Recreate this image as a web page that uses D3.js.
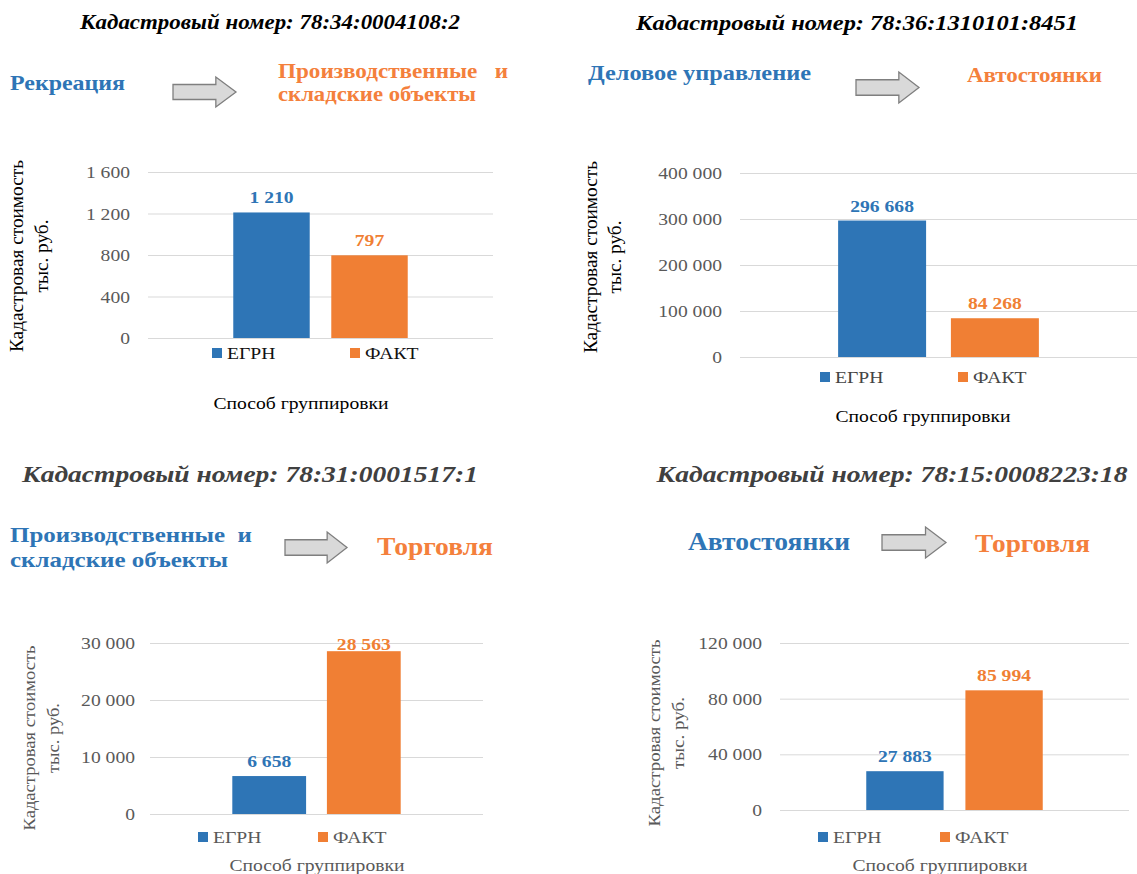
<!DOCTYPE html>
<html><head><meta charset="utf-8">
<script src="https://cdn.jsdelivr.net/npm/d3@7"></script>
<style>
body{margin:0;background:#fff}
svg{display:block}
</style>
</head><body>
<svg id="c" width="1137" height="874"></svg>
<script>
// ---------- DATA ----------
const categories = ["ЕГРН", "ФАКТ"];
const titles = [
  "Кадастровый номер: 78:34:0004108:2",
  "Кадастровый номер: 78:36:1310101:8451",
  "Кадастровый номер: 78:31:0001517:1",
  "Кадастровый номер: 78:15:0008223:18"
];
const fromLabels = [["Рекреация"], ["Деловое управление"], ["Производственные  и", "складские объекты"], ["Автостоянки"]];
const toLabels = [["Производственные   и", "складские объекты"], ["Автостоянки"], ["Торговля"], ["Торговля"]];
const egrnValues = [1210, 296668, 6658, 27883];
const faktValues = [797, 84268, 28563, 85994];
const yMaxValues = [1600, 400000, 30000, 120000];
const yTickValues = [
  [0, 400, 800, 1200, 1600],
  [0, 100000, 200000, 300000, 400000],
  [0, 10000, 20000, 30000],
  [0, 40000, 80000, 120000]
];
const yAxisTitleLines = ["Кадастровая стоимость", "тыс. руб."];
const xAxisTitle = "Способ группировки";

// ---------- STYLE / LAYOUT ----------
const FONT = "'Liberation Serif', 'Times New Roman', serif";
const BLUE = "#2E75B6", ORANGE = "#F07F34";
const HBLUE = "#2E75B6", HORANGE = "#F4803C";
const STRETCH = 1.12;

const layout = [
  { plot:{l:148,r:493,t:172,b:338}, tickPad:18,
    title:{x:270,y:29,size:21,len:380,color:"#000"},
    from:{x:10,ys:[90],size:22,lens:[115]}, to:{x:278,ys:[78,101],size:21,lens:[230,198]},
    arrow:{x:173,y:77,w:63,h:30},
    yTitle:{xs:[17,42],cy:256,size:18,lens:[192,73],color:"#000"},
    xTitle:{x:301,y:409,color:"#000"},
    legend:{x:212,y:353,step:138,color:"#111"}, textColor:"#595959" },
  { plot:{l:740,r:1137,t:173,b:357}, tickPad:18,
    title:{x:857,y:30,size:22,len:442,color:"#000"},
    from:{x:588,ys:[80],size:21,lens:[223]}, to:{x:967,ys:[82],size:21,lens:[135]},
    arrow:{x:856,y:72,w:63,h:31},
    yTitle:{xs:[591,615],cy:257,size:18,lens:[192,73],color:"#000"},
    xTitle:{x:923,y:422,color:"#000"},
    legend:{x:820,y:377,step:138,color:"#444"}, textColor:"#595959" },
  { plot:{l:150,r:483,t:643,b:814}, tickPad:15,
    title:{x:250,y:482,size:24,len:456,color:"#404040"},
    from:{x:10,ys:[542,567],size:22,lens:[242,218]}, to:{x:377,ys:[555],size:25,lens:[116]},
    arrow:{x:285,y:532,w:62,h:31},
    yTitle:{xs:[29,53],cy:738,size:17,lens:[185,70],color:"#595959"},
    xTitle:{x:317,y:871,color:"#595959"},
    legend:{x:198,y:837,step:120,color:"#595959"}, textColor:"#595959" },
  { plot:{l:780,r:1129,t:643,b:810}, tickPad:18,
    title:{x:892,y:482,size:24,len:471,color:"#404040"},
    from:{x:688,ys:[550],size:25,lens:[162]}, to:{x:975,ys:[552],size:25,lens:[115]},
    arrow:{x:882,y:527,w:64,h:31},
    yTitle:{xs:[654,678],cy:733,size:17,lens:[187,72],color:"#595959"},
    xTitle:{x:940,y:871,color:"#595959"},
    legend:{x:818,y:837,step:122,color:"#595959"}, textColor:"#595959" }
];

const ru = d3.formatLocale({decimal:",", thousands:" ", grouping:[3], currency:["",""]});
const fmt = ru.format(",d");

const svg = d3.select("#c");

function stretch(sel){
  sel.style("font-family", FONT).each(function(){
    const w = this.getComputedTextLength();
    d3.select(this).attr("textLength", w*STRETCH).attr("lengthAdjust","spacingAndGlyphs");
  });
}

layout.forEach((L, i) => {
  const g = svg.append("g");
  const values = [egrnValues[i], faktValues[i]];
  const colors = [BLUE, ORANGE];

  // Title
  g.append("text").style("font-family", FONT).style("white-space","pre")
    .attr("x", L.title.x).attr("y", L.title.y)
    .attr("text-anchor","middle").attr("font-size", L.title.size)
    .attr("font-weight","bold").attr("font-style","italic")
    .attr("fill", L.title.color)
    .attr("textLength", L.title.len).attr("lengthAdjust","spacingAndGlyphs")
    .text(titles[i]);

  // From / to labels
  fromLabels[i].forEach((t, k) => {
    g.append("text").style("font-family", FONT).style("white-space","pre")
      .attr("x", L.from.x).attr("y", L.from.ys[k])
      .attr("font-size", L.from.size).attr("font-weight","bold").attr("fill", HBLUE)
      .attr("textLength", L.from.lens[k]).attr("lengthAdjust","spacingAndGlyphs")
      .text(t);
  });
  toLabels[i].forEach((t, k) => {
    g.append("text").style("font-family", FONT).style("white-space","pre")
      .attr("x", L.to.x).attr("y", L.to.ys[k])
      .attr("font-size", L.to.size).attr("font-weight","bold").attr("fill", HORANGE)
      .attr("textLength", L.to.lens[k]).attr("lengthAdjust","spacingAndGlyphs")
      .text(t);
  });

  // Arrow
  const a = L.arrow;
  const pts = [[0,0.25],[0.68,0.25],[0.68,0],[1,0.5],[0.68,1],[0.68,0.75],[0,0.75]]
    .map(p => [a.x + p[0]*a.w, a.y + p[1]*a.h]);
  g.append("path").attr("d", d3.line()(pts) + "Z")
    .attr("fill","#d9d9d9").attr("stroke","#7f7f7f").attr("stroke-width",1.3);

  // Scales
  const x = d3.scaleBand().domain(categories).range([L.plot.l, L.plot.r])
    .paddingInner(0.22).paddingOuter(0.87);
  const y = d3.scaleLinear().domain([0, yMaxValues[i]]).range([L.plot.b, L.plot.t]);

  // Gridlines
  const grid = g.append("g").attr("transform", `translate(${L.plot.l},0)`)
    .call(d3.axisLeft(y).tickValues(yTickValues[i]).tickSize(-(L.plot.r - L.plot.l)).tickFormat(""));
  grid.select(".domain").remove();
  grid.selectAll(".tick line").attr("stroke","#d9d9d9").attr("stroke-width",1);

  // Y axis labels
  const ax = g.append("g").attr("transform", `translate(${L.plot.l},0)`)
    .call(d3.axisLeft(y).tickValues(yTickValues[i]).tickSize(0).tickPadding(L.tickPad).tickFormat(fmt));
  ax.select(".domain").remove();
  ax.selectAll(".tick text").attr("font-size",17.5).attr("fill", L.textColor);
  stretch(ax.selectAll(".tick text"));

  // Bars
  g.selectAll("rect.bar").data(categories).join("rect").attr("class","bar")
    .attr("x", d => x(d)).attr("width", x.bandwidth())
    .attr("y", (d, k) => y(values[k])).attr("height", (d, k) => y(0) - y(values[k]))
    .attr("fill", (d, k) => colors[k]);

  // Value labels
  const vl = g.selectAll("text.val").data(categories).join("text").attr("class","val")
    .attr("x", d => x(d) + x.bandwidth()/2)
    .attr("y", (d, k) => Math.max(y(values[k]) - 9, L.plot.t + 7))
    .attr("text-anchor","middle").attr("font-size",17.5).attr("font-weight","bold")
    .attr("fill", (d, k) => colors[k])
    .text((d, k) => fmt(values[k]));
  stretch(vl);

  // Legend
  categories.forEach((c, k) => {
    const lx = L.legend.x + k * L.legend.step;
    g.append("rect").attr("x", lx).attr("y", L.legend.y - 5).attr("width",10).attr("height",10)
      .attr("fill", colors[k]);
    const t = g.append("text").attr("x", lx + 15).attr("y", L.legend.y + 6)
      .attr("font-size",17.5).attr("fill", L.legend.color).text(c);
    stretch(t);
  });

  // X axis title
  const xt = g.append("text").attr("x", L.xTitle.x).attr("y", L.xTitle.y)
    .attr("text-anchor","middle").attr("font-size",17.5).attr("fill", L.xTitle.color)
    .text(xAxisTitle);
  stretch(xt);

  // Y axis title (rotated)
  yAxisTitleLines.forEach((t, k) => {
    g.append("text").style("font-family", FONT)
      .attr("transform", `translate(${L.yTitle.xs[k]},${L.yTitle.cy}) rotate(-90)`)
      .attr("text-anchor","middle").attr("dominant-baseline","central")
      .attr("font-size", L.yTitle.size).attr("fill", L.yTitle.color)
      .attr("textLength", L.yTitle.lens[k]).attr("lengthAdjust","spacingAndGlyphs")
      .text(t);
  });
});
</script>
</body></html>
